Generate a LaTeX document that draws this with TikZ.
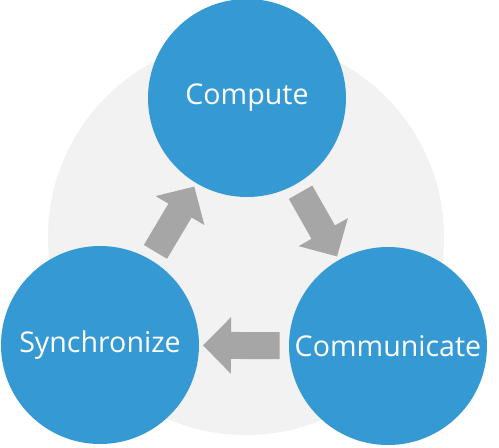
\documentclass[tikz,border=0pt]{standalone}
\usepackage{fontspec}
\setmainfont{Open Sans}
\usetikzlibrary{arrows.meta, positioning}
\definecolor{phaseblue}{RGB}{53,153,212}
\definecolor{flowgray}{RGB}{166,166,166}
\definecolor{backgray}{RGB}{242,242,242}

\tikzset{
	phase/.style={circle, fill=phaseblue, minimum size=99pt, inner sep=0pt, text=white, font=\fontsize{14.3}{16}\selectfont},
	flow/.style={draw=flowgray, line width=13.5pt, -{Triangle[width=27.5pt,length=14pt]}, shorten <=4.5pt, shorten >=1.8pt}
}

\begin{document}
\begin{tikzpicture}[x=0.5pt,y=-0.5pt]
				\useasboundingbox (0,0) rectangle (499,447);
				\fill[backgray] (246,237) circle (99pt);
				\node[phase] (compute) at (247,98) {Compute};
				\node[phase] (sync) at (100,345) {Synchronize};
				\node[phase] (comm) at (388,346) {Communicate};
				\draw[flow] (sync) -- (compute);
				\draw[flow] (compute) -- (comm);
				\draw[flow] (comm) -- (sync);
			\end{tikzpicture}
\end{document}
